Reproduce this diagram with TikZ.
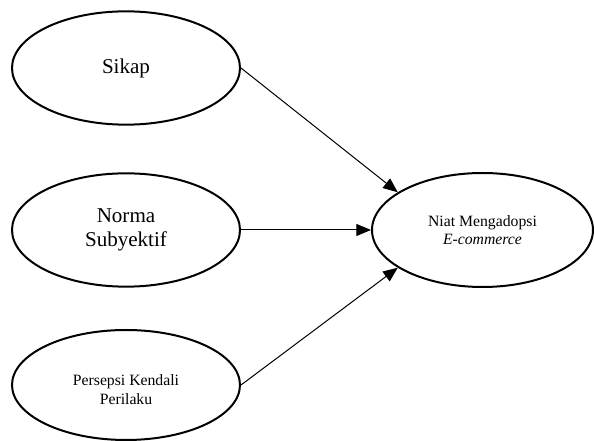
\documentclass[tikz,border=0pt]{standalone}
\usepackage{fontspec}
\setmainfont{Liberation Serif}
\usetikzlibrary{shapes.geometric,arrows.meta}

\begin{document}
\begin{tikzpicture}[x=0.75pt,y=-0.75pt,
  konstruk/.style={ellipse,draw,line width=1.5pt,inner sep=0pt,align=center,
    minimum width=171pt,minimum height=85pt},
  besar/.style={font=\fontsize{15.8}{17.6}\selectfont},
  kecil/.style={font=\fontsize{11.8}{14}\selectfont},
  panah/.style={-{Triangle[length=11pt,width=9pt]},line width=0.75pt}]
\useasboundingbox (0,0) rectangle (594,441);

\node[konstruk,besar] (sikap) at (126,68) {Sikap};
\node[konstruk,besar] (norma) at (126,230) {Norma\\Subyektif};
\node[konstruk,kecil,minimum height=82.5pt] (persepsi) at (126,385)
  {\raisebox{-7.5pt}[0pt][0pt]{\begin{tabular}{@{}c@{}}Persepsi Kendali\\Perilaku\end{tabular}}};
\node[konstruk,kecil,minimum width=165.75pt,minimum height=85.5pt] (niat) at (482.5,230)
  {Niat Mengadopsi\\\textit{E-commerce}};

\draw[panah] (sikap.east) -- (niat.156);
\draw[panah] (norma.east) -- (niat.west);
\draw[panah] (persepsi.east) -- (niat.204);
\end{tikzpicture}
\end{document}
